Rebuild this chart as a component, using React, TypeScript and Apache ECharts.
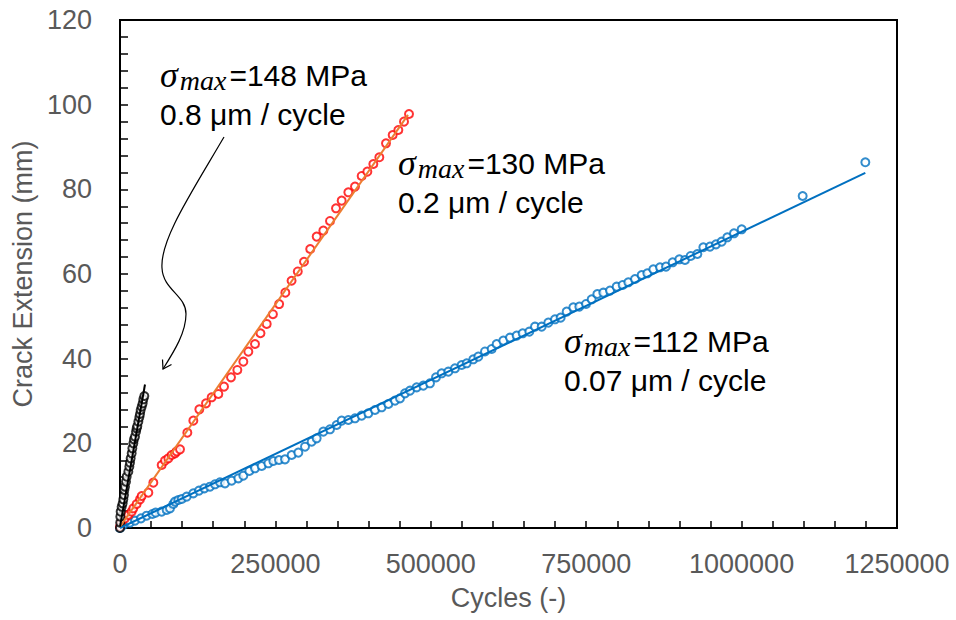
import React, { useEffect, useRef } from 'react';
import * as echarts from 'echarts';

// σmax = 112 MPa specimen
const blueCycles = [
  0, 1000, 5360, 16090, 24130, 33780, 42900, 52010, 57380, 67030, 75080, 80440, 85800, 88480, 93840, 99210,
  107250, 117970, 127090, 135670, 144790, 152830, 160870, 168920, 179640, 190370, 198410, 208060, 217180,
  227910, 238630, 246670, 255790, 265440, 276170, 286890, 297620, 308340, 316390, 327110, 337840, 348560,
  356610, 367330, 378060, 388780, 399500, 410230, 420950, 431680, 442400, 450450, 458490, 466540, 477260,
  487990, 498710, 508360, 517480, 528200, 538930, 549650, 557700, 568420, 576460, 587190, 597920, 605960,
  616690, 627410, 638140, 647790, 658520, 667630, 678360, 689080, 699810, 708920, 718580, 729300, 738950,
  749680, 758800, 767910, 777570, 788290, 799010, 808670, 817790, 828510, 839230, 848350, 858000, 868730,
  878380, 889100, 899830, 908940, 918060, 928780, 938440, 949160, 958820, 967930, 977050, 987770, 1000110,
  1098240, 1199050,
];
const blueMm = [
  0, 0.31, 0.71, 1.26, 1.73, 2.28, 2.91, 3.31, 3.62, 3.86, 4.25, 4.65, 5.67, 6.22, 6.61, 6.85,
  7.4, 8.19, 8.82, 9.37, 9.76, 10.32, 10.79, 10.55, 11.18, 11.73, 12.36, 13.47, 14.1,
  14.65, 15.28, 15.83, 16.06, 16.22, 17.25, 17.8, 19.21, 20.39, 21.18, 22.76, 23.31, 24.33,
  25.36, 25.51, 25.91, 26.54, 27.09, 27.88, 28.51, 29.29, 30.08, 30.63, 31.81, 32.44, 33.23,
  33.62, 34.18, 35.59, 36.54, 36.93, 37.72, 38.51, 38.9, 39.85, 40.48, 41.7, 42.29, 43.47,
  44.26, 44.96, 45.44, 45.99, 46.38, 47.56, 47.56, 48.51, 49.3, 49.69, 51.11, 52.13, 52.29,
  52.92, 54.02, 55.28, 55.59, 56.07, 57.01, 57.41, 58.04, 58.82, 59.77, 60.16, 61.11, 61.58,
  61.74, 62.76, 63.47, 63.31, 64.26, 64.73, 66.31, 66.46, 67.01, 67.64, 68.67, 69.61, 70.56,
  78.43, 86.39,
];

// σmax = 130 MPa specimen
const redCycles = [
  0, 2000, 8040, 13410, 18770, 21450, 26810, 32180, 34850, 45580, 53630, 67030, 72390, 77760, 83120,
  88480, 91170, 96530, 108330, 117970, 127630, 138350, 147470, 158190, 167310, 178570, 188760, 198410,
  206450, 217180, 226000, 236000, 246000, 256000, 266000, 276000, 286000, 296000, 306000, 316390, 327110,
  337840, 347490, 356610, 367330, 378060, 388780, 397900, 407550, 417200, 427930, 438650, 447770, 456890,
  464930,
];
const redMm = [
  0.3, 1.26, 2.28, 3.07, 3.86, 4.65, 5.67, 6.77, 7.56, 8.35, 10.71, 14.88, 15.91, 16.46, 17.25,
  17.64, 18.1, 18.58, 22.52, 25.36, 28.03, 29.45, 30.87, 31.66, 33.39, 35.59, 37.33, 39.29,
  41.66, 43.47, 46.0, 48.2, 50.5, 52.9, 55.6, 58.4, 60.6, 62.9, 65.9, 68.83, 70.24,
  72.53, 75.52, 77.33, 79.3, 80.64, 83.16, 84.18, 85.99, 87.57, 90.87, 92.84, 94.02, 95.99,
  97.8,
];

// σmax = 148 MPa specimen
const blackCycles = [
  0, 300, 500, 1070, 2680, 4290, 5360, 6440, 6970, 8040, 9650, 10720, 13410, 15020, 16090, 17160,
  18770, 19840, 21450, 22520, 24130, 25740, 26810, 27880, 29490, 31100, 32180, 33250, 34850, 36470,
  37540, 39140,
];
const blackMm = [
  0, 1.26, 2.68, 3.86, 5.04, 5.83, 6.77, 7.8, 8.98, 9.76, 10.95, 12.13, 13.31, 14.49, 15.43, 16.46,
  17.64, 18.82, 20.0, 20.95, 21.58, 22.76, 23.55, 24.1, 25.12, 26.14, 26.93, 27.88, 28.66, 29.45,
  30.4, 31.18,
];

// Linear fits (end points)
const blueFitCycles = [0, 1199000];
const blueFitMm = [0, 83.9];
const redFitCycles = [0, 463300];
const redFitMm = [0.3, 97.6];
const blackFitCycles = [0, 40200];
const blackFitMm = [0.3, 33.9];

// Annotation texts
const stressLabels = ['=148 MPa', '=130 MPa', '=112 MPa'];
const rateLabels = ['0.8 μm / cycle', '0.2 μm / cycle', '0.07 μm / cycle'];

const pairs = (xs: number[], ys: number[]) => xs.map((x, i) => [x, ys[i]]);

const SANS = '"Liberation Sans", Arial, sans-serif';
const GREY = '#595959';

const sigmaRich = {
  s: { fontFamily: '"Liberation Serif", serif', fontStyle: 'italic', fontSize: 36, fill: '#000', padding: [0, 1, 0, 0] },
  sub: { fontFamily: '"Liberation Serif", serif', fontStyle: 'italic', fontSize: 28, fill: '#000', padding: [11, 3, 0, 1] },
  t: { fontFamily: SANS, fontSize: 30, fill: '#000' },
};

const annotation = (x: number, y: number, idx: number) => [
  {
    type: 'text',
    x,
    y,
    z: 100,
    style: { text: `{s|σ}{sub|max}{t|${stressLabels[idx]}}`, rich: sigmaRich, verticalAlign: 'middle', align: 'left' },
  },
  {
    type: 'text',
    x,
    y: y + 39,
    z: 100,
    style: { text: rateLabels[idx], font: `30px ${SANS}`, fill: '#000', verticalAlign: 'middle', align: 'left' },
  },
];

export default function App() {
  const ref = useRef<HTMLDivElement>(null);

  useEffect(() => {
    if (!ref.current) return;
    const chart = echarts.init(ref.current, undefined, { renderer: 'svg' });

    const scatter = (name: string, data: number[][], color: string) => ({
      name,
      type: 'scatter',
      data,
      symbol: 'emptyCircle',
      symbolSize: 8,
      itemStyle: { color, borderColor: color, borderWidth: 1.2 },
      z: 2,
    });
    const fit = (name: string, data: number[][], color: string) => ({
      name,
      type: 'line',
      data,
      symbol: 'none',
      showSymbol: false,
      lineStyle: { color, width: 2 },
      z: 3,
    });

    const tickStyle = { color: '#000', width: 1.5 };

    chart.setOption({
      animation: false,
      backgroundColor: '#fff',
      grid: { left: 120, right: 59, top: 20, bottom: 92, show: true, borderColor: '#000', borderWidth: 2 },
      xAxis: {
        type: 'value',
        min: 0,
        max: 1250000,
        interval: 250000,
        name: 'Cycles (-)',
        nameLocation: 'middle',
        nameGap: 56,
        nameTextStyle: { fontFamily: SANS, fontSize: 27, color: GREY },
        axisLine: { show: true, lineStyle: { color: '#000', width: 2 } },
        axisTick: { show: true, inside: true, length: 7, lineStyle: tickStyle },
        minorTick: { show: true, splitNumber: 5, length: 7, lineStyle: tickStyle },
        axisLabel: { fontFamily: SANS, fontSize: 27, color: GREY, margin: 22, formatter: (v: number) => String(v) },
        splitLine: { show: false },
      },
      yAxis: {
        type: 'value',
        min: 0,
        max: 120,
        interval: 20,
        name: 'Crack Extension (mm)',
        nameLocation: 'middle',
        nameGap: 80,
        nameTextStyle: { fontFamily: SANS, fontSize: 27, color: GREY },
        axisLine: { show: true, lineStyle: { color: '#000', width: 2 } },
        axisTick: { show: true, inside: true, length: 8, lineStyle: tickStyle },
        minorTick: { show: true, splitNumber: 5, length: 8, lineStyle: tickStyle },
        axisLabel: { fontFamily: SANS, fontSize: 27, color: GREY, margin: 28, formatter: (v: number) => String(v) },
        splitLine: { show: false },
      },
      series: [
        scatter('112 MPa', pairs(blueCycles, blueMm), '#0070C0'),
        scatter('130 MPa', pairs(redCycles, redMm), '#FF0000'),
        scatter('148 MPa', pairs(blackCycles, blackMm), '#000000'),
        fit('112 MPa fit', pairs(blueFitCycles, blueFitMm), '#0070C0'),
        fit('130 MPa fit', pairs(redFitCycles, redFitMm), '#ED7D31'),
        fit('148 MPa fit', pairs(blackFitCycles, blackFitMm), '#000000'),
      ],
      graphic: [
        ...annotation(160, 75, 0),
        ...annotation(398, 163, 1),
        ...annotation(564, 341, 2),
        // curved pointer towards the 148 MPa data
        {
          type: 'bezierCurve',
          z: 100,
          shape: { x1: 224, y1: 137, cpx1: 190, cpy1: 195, cpx2: 160, cpy2: 240, x2: 162, y2: 268 },
          style: { stroke: '#000', lineWidth: 1.2, fill: 'none' },
        },
        {
          type: 'bezierCurve',
          z: 100,
          shape: { x1: 162, y1: 268, cpx1: 163, cpy1: 290, cpx2: 186, cpy2: 295, x2: 186, y2: 314 },
          style: { stroke: '#000', lineWidth: 1.2, fill: 'none' },
        },
        {
          type: 'bezierCurve',
          z: 100,
          shape: { x1: 186, y1: 314, cpx1: 186, cpy1: 332, cpx2: 175, cpy2: 350, x2: 163, y2: 369 },
          style: { stroke: '#000', lineWidth: 1.2, fill: 'none' },
        },
        {
          type: 'polyline',
          z: 100,
          shape: { points: [[162.5, 359.5], [163, 369], [171.5, 364.5]] },
          style: { stroke: '#000', lineWidth: 1.2, fill: 'none' },
        },
      ],
    });

    return () => chart.dispose();
  }, []);

  return (
    <div
      ref={ref}
      style={{ position: 'absolute', left: 0, top: 0, width: 956, height: 620, background: '#fff' }}
    />
  );
}
